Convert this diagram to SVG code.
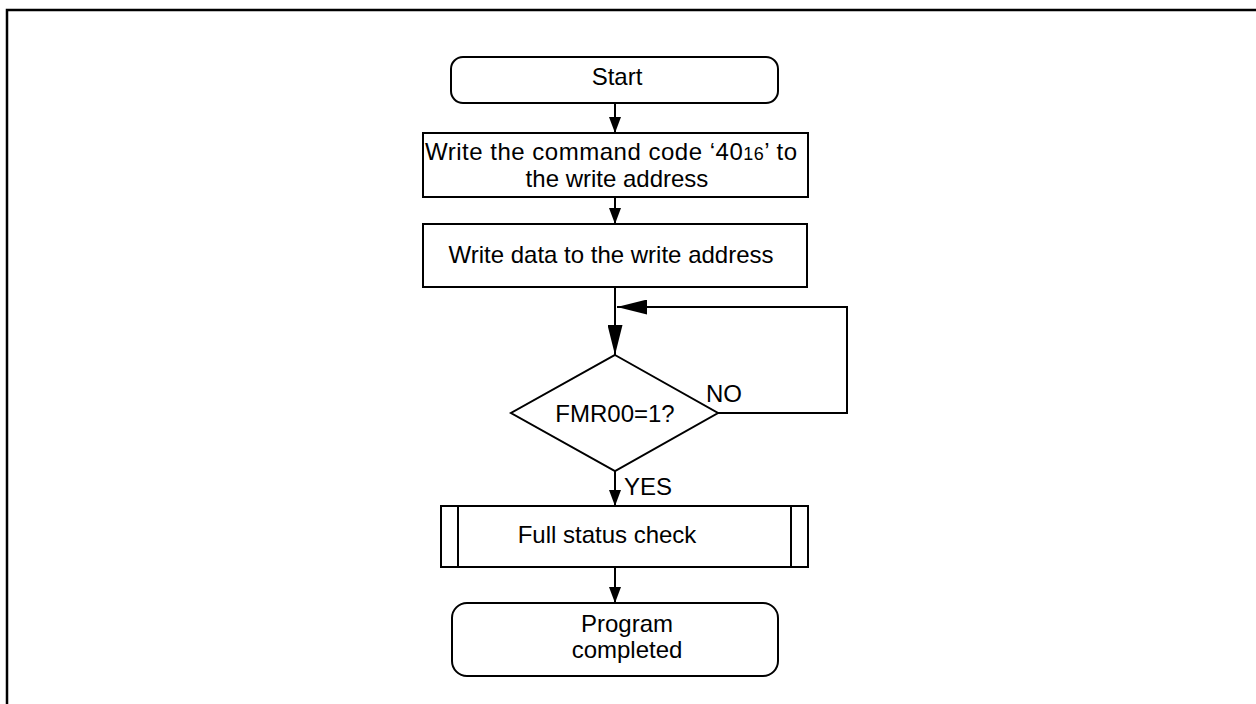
<svg xmlns="http://www.w3.org/2000/svg" width="1256" height="704" viewBox="0 0 1256 704">
<style>
.s{fill:#fff;stroke:#000;stroke-width:2}
.t{font-family:"Liberation Sans",Arial,sans-serif;font-size:24px;fill:#000}
.c{stroke:#000;stroke-width:2;fill:none}
</style>
<defs>
<marker id="sm" markerUnits="userSpaceOnUse" markerWidth="16" markerHeight="12" refX="16" refY="6" orient="auto"><path d="M0,0 L16,6 L0,12 z" fill="#000"/></marker>
<marker id="bg" markerUnits="userSpaceOnUse" markerWidth="30" markerHeight="15" refX="30" refY="7.5" orient="auto"><path d="M0,0 L30,7.5 L0,15 z" fill="#000"/></marker>
</defs>
<rect width="1256" height="704" fill="#fff"/>
<path d="M7,704 V10 H1256" stroke="#000" stroke-width="2.5" fill="none"/>
<g id="connectors">
<path class="c" d="M615,103 V133" marker-end="url(#sm)"/>
<path class="c" d="M615,197 V224" marker-end="url(#sm)"/>
<path class="c" d="M615,287 V355" marker-end="url(#bg)"/>
<path class="c" d="M718,413 H847 V307 H617" marker-end="url(#bg)"/>
<path class="c" d="M615,471 V506" marker-end="url(#sm)"/>
<path class="c" d="M615,567 V603" marker-end="url(#sm)"/>
<text class="t" x="706" y="402">NO</text>
<text class="t" x="624" y="495">YES</text>
</g>
<g id="start">
<rect class="s" x="451" y="57" width="327" height="46" rx="12"/>
<text class="t" x="617" y="85" text-anchor="middle">Start</text>
</g>
<g id="cmd">
<rect class="s" x="423" y="133" width="385" height="64"/>
<text class="t" x="425" y="160" textLength="372" lengthAdjust="spacing">Write the command code ‘40<tspan font-size="18">16</tspan>’ to</text>
<text class="t" x="617" y="187" text-anchor="middle">the write address</text>
</g>
<g id="data">
<rect class="s" x="423" y="224" width="384" height="63"/>
<text class="t" x="611" y="263" text-anchor="middle">Write data to the write address</text>
</g>
<g id="decision">
<path class="s" d="M615,355 L718,413 L615,471 L511,413 z"/>
<text class="t" x="615" y="422" text-anchor="middle">FMR00=1?</text>
</g>
<g id="check">
<rect class="s" x="441" y="506" width="367" height="61"/>
<path class="c" d="M458,506 V567 M791,506 V567"/>
<text class="t" x="607" y="543" text-anchor="middle">Full status check</text>
</g>
<g id="end">
<rect class="s" x="452" y="603" width="326" height="73" rx="15"/>
<text class="t" x="627" y="632" text-anchor="middle">Program</text>
<text class="t" x="627" y="658" text-anchor="middle">completed</text>
</g>
</svg>
